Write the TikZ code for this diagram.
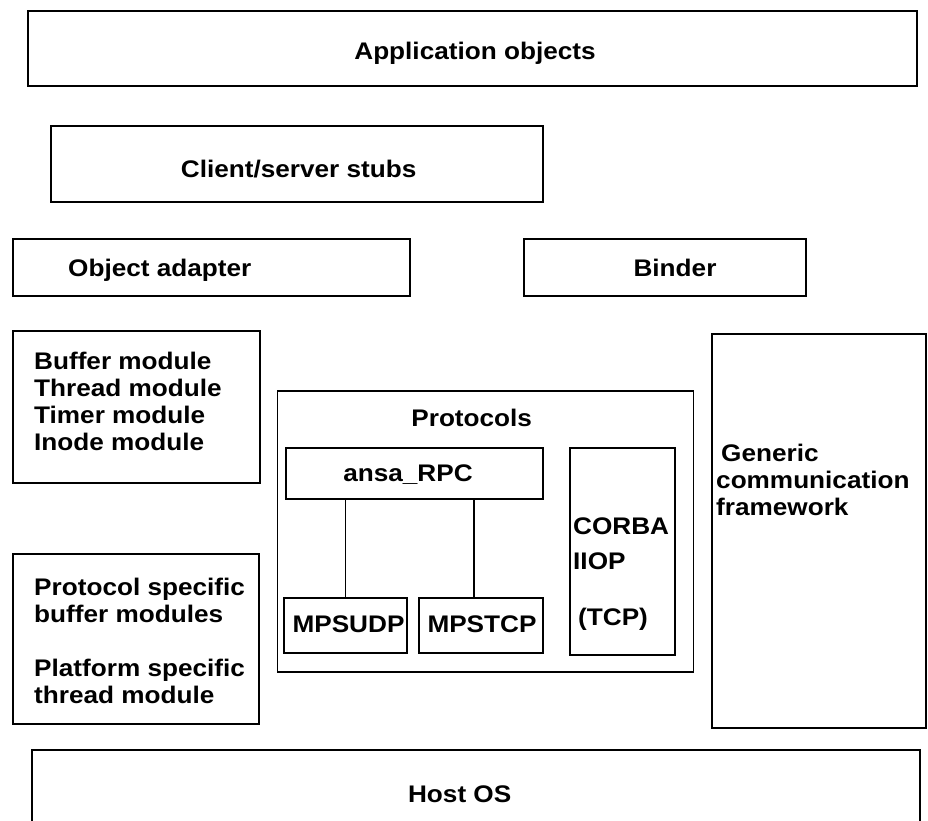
\documentclass[tikz,border=0pt]{standalone}
\usepackage{fontspec}
\setmainfont{Liberation Sans}[FakeStretch=1.09]
\usepackage{tikz}
\usetikzlibrary{calc}

\begin{document}
\begin{tikzpicture}[x=1pt,y=-1pt,
  blk/.style={draw,rectangle,line width=1.8pt,inner sep=0pt},
  txt/.style={inner sep=0pt,font=\fontsize{24}{27}\selectfont\bfseries}]

\useasboundingbox (0,0) rectangle (928,820);

  % layers above the core
  \node[blk,minimum width=889,minimum height=75] (app) at (472.5,48.5) {};
  \node[blk,minimum width=492,minimum height=76] (stubs) at (297,164) {};
  \node[blk,minimum width=397,minimum height=57] (adapter) at (211.5,267.5) {};
  \node[blk,minimum width=282,minimum height=57] (binder) at (665,267.5) {};

  \node[txt,anchor=base] (tapp) at (475,59.5) {Application objects};
  \node[txt,anchor=base] (tstubs) at (298.7,177.3) {Client/server stubs};
  \node[txt,anchor=base west] (tadapter) at (68,276.5) {Object adapter};
  \node[txt,anchor=base] (tbinder) at (675,276.5) {Binder};

  % modules on the left (base = last line)
  \node[blk,minimum width=247,minimum height=152] (bufmod) at (136.5,407) {};
  \node[blk,minimum width=246,minimum height=170] (psbuf) at (136,639) {};

  \node[txt,anchor=base west,align=left] (tbufmod) at (34,450)
    {Buffer module\\Thread module\\Timer module\\Inode module};
  \node[txt,anchor=base west,align=left] (tpsbuf) at (34,703)
    {Protocol specific\\buffer modules\\[27pt]Platform specific\\thread module};

  % protocols
  \node[blk,minimum width=416,minimum height=281] (proto) at (485.5,531.5) {};
  \node[blk,minimum width=257,minimum height=51] (rpc) at (414.5,473.5) {};
  \node[blk,minimum width=123,minimum height=55] (udp) at (345.5,625.5) {};
  \node[blk,minimum width=124,minimum height=55] (tcp) at (481,625.5) {};
  \node[blk,minimum width=105,minimum height=207] (corba) at (622.5,551.5) {};

  \node[txt,anchor=base] (tproto) at (471.7,426) {Protocols};
  \node[txt,anchor=base] (trpc) at (408,481) {ansa\_RPC};
  \node[txt,anchor=base] (tudp) at (348.5,632) {MPSUDP};
  \node[txt,anchor=base] (ttcp) at (482,632) {MPSTCP};
  \node[txt,anchor=base west,align=left] (tcorba) at (573,625)
    {CORBA\\[8.5pt]IIOP\\[28.5pt]\hspace{5pt}(TCP)};

  \draw[line width=1.5pt] (rpc.south -| udp.north) -- (udp.north);
  \draw[line width=1.5pt] ([xshift=-7pt]tcp.north |- rpc.south) -- ([xshift=-7pt]tcp.north);

  % right side and bottom
  \node[blk,minimum width=214,minimum height=394] (gcf) at (819,531) {};
  \node[txt,anchor=base west,align=left] (tgcf) at (716,515)
    {\hspace{5pt}Generic\\communication\\framework};

  \node[blk,minimum width=888,minimum height=74] (host) at (476,787) {};
  \node[txt,anchor=base] (thost) at (459.7,802) {Host OS};

\end{tikzpicture}
\end{document}
